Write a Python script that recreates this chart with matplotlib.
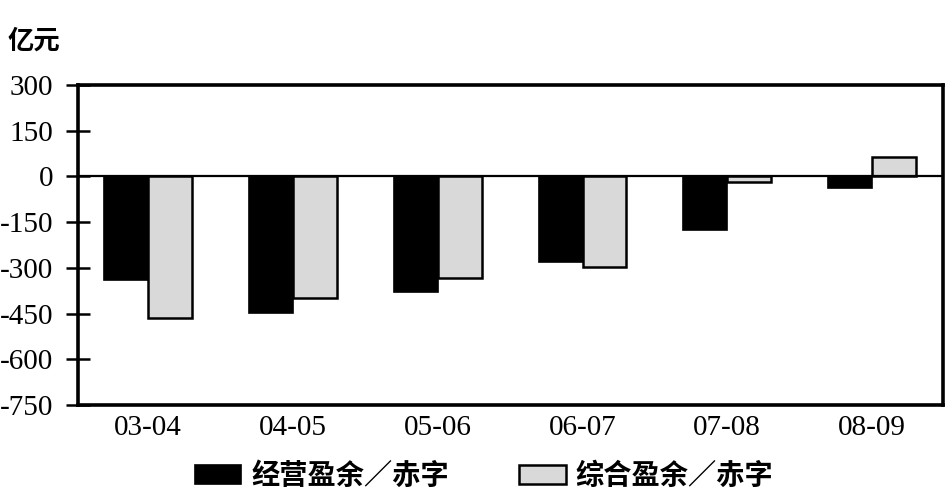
import matplotlib
matplotlib.use("Agg")
import matplotlib.pyplot as plt
import numpy as np
from matplotlib.patches import Patch

categories = ["03-04", "04-05", "05-06", "06-07", "07-08", "08-09"]
operating = [-340, -448, -379, -281, -176, -38]
consolidated = [-465, -399, -333, -297, -18, 64]
yticks = [300, 150, 0, -150, -300, -450, -600, -750]
series_names = ["经营盈余／赤字", "综合盈余／赤字"]
unit_label = "亿元"

cjk = ["Noto Sans CJK SC", "DejaVu Sans"]
serif = ["Liberation Serif", "DejaVu Serif"]

fig = plt.figure(figsize=(9.46, 4.96), dpi=100)
ax = fig.add_axes([78/946, 1-405/496, (943-78)/946, (405-85)/496])

x = np.arange(len(categories))
w = 0.303
ax.bar(x - w/2, operating, width=w, color="black", edgecolor="black", linewidth=1.2, zorder=3)
ax.bar(x + w/2, consolidated, width=w, color="#d9d9d9", edgecolor="black", linewidth=1.8, zorder=3)
ax.axhline(0, color="black", linewidth=1.6, zorder=4)

ax.set_xlim(-0.485, len(categories) - 1 + 0.49)
ax.set_ylim(-750, 300)
ax.set_yticks(yticks)
ax.set_yticklabels([str(v) for v in yticks], family=serif, fontsize=21)
ax.set_xticks(x)
ax.set_xticklabels(categories, family=serif, fontsize=21)
ax.tick_params(axis="y", direction="inout", length=17, width=1.8, pad=9.5)
ax.tick_params(axis="x", length=0, pad=7)
for s in ax.spines.values():
    s.set_linewidth(2.6)

fig.text(8/946, 1-41/496, unit_label, family=cjk, fontsize=19, fontweight="bold",
         ha="left", va="center")

handles = [Patch(facecolor="black", edgecolor="black", linewidth=1.2),
           Patch(facecolor="#d9d9d9", edgecolor="black", linewidth=1.8)]
fig.legend(handles, series_names, loc="center", bbox_to_anchor=(484/946, 1-476/496),
           ncol=2, frameon=False, prop={"family": cjk, "size": 20.3, "weight": "bold"},
           handlelength=1.65, handleheight=0.65, handletextpad=0.35, columnspacing=2.5)

fig.savefig("out.png", dpi=100)
